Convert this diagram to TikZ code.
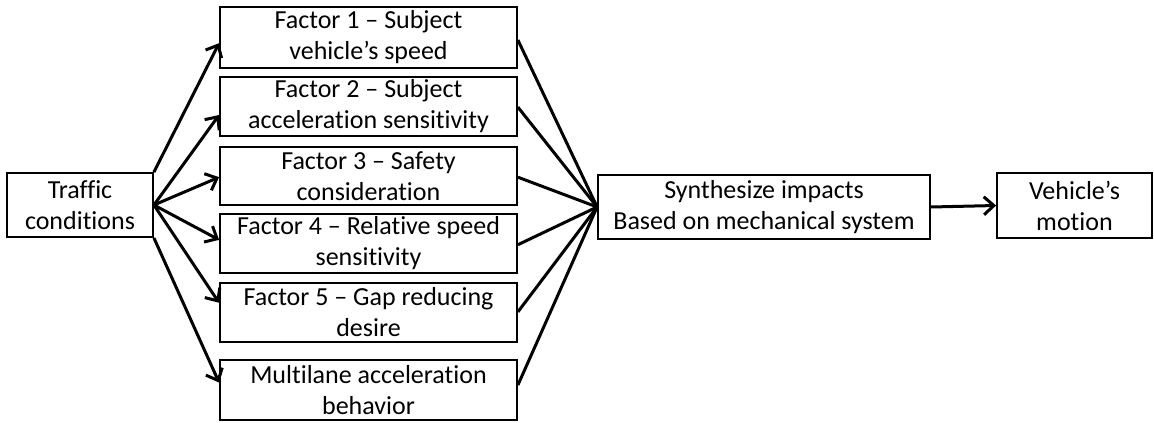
\documentclass[tikz,border=0pt]{standalone}
\usepackage{fontspec}
\setmainfont{Carlito}[Ligatures=NoCommon]
\usetikzlibrary{arrows.meta,calc}
\begin{document}
\begin{tikzpicture}[x=1pt,y=-1pt,
  box/.style={draw,line width=1.8pt,rectangle,inner sep=0pt,align=center,
    font=\fontsize{26}{31}\selectfont},
  link/.style={line width=3pt},
  arr/.style={link,-{Straight Barb[length=10pt,width=18pt,line width=3pt]}}]
\useasboundingbox (0,0) rectangle (1154,423);

% source
\node[box,minimum width=146pt,minimum height=64pt] (tc) at (80,205) {Traffic\\conditions};

% factor column
\node[box,minimum width=297pt,minimum height=61pt] (f1) at (368.5,37.5) {Factor 1 -- Subject\\vehicle’s speed};
\node[box,minimum width=297pt,minimum height=59pt] (f2) at (368.5,106.5) {Factor 2 -- Subject\\acceleration sensitivity};
\node[box,minimum width=297pt,minimum height=58pt] (f3) at (368.5,176) {Factor 3 -- Safety\\consideration};
\node[box,minimum width=297pt,minimum height=59pt] (f4) at (368.5,243.5) {Factor 4 -- Relative speed\\sensitivity};
\node[box,minimum width=297pt,minimum height=59pt] (f5) at (368.5,312.5) {Factor 5 -- Gap reducing\\desire};
\node[box,minimum width=297pt,minimum height=60pt] (f6) at (368.5,390) {Multilane acceleration\\behavior};

% synthesis and output
\node[box,minimum width=332pt,minimum height=64pt] (syn) at (764,207) {Synthesize impacts\\Based on mechanical system};
\node[box,minimum width=155pt,minimum height=65pt] (veh) at (1074.5,205.5) {Vehicle’s\\motion};

% fan-out from traffic conditions
\draw[arr] (tc.north east) -- ($(f1.north west)!0.59!(f1.south west)$);
\draw[arr] (tc.east) -- ($(f2.north west)!0.64!(f2.south west)$);
\draw[arr] (tc.east) -- ($(f3.north west)!0.52!(f3.south west)$);
\draw[arr] (tc.east) -- ($(f4.north west)!0.44!(f4.south west)$);
\draw[arr] (tc.east) -- ($(f5.north west)!0.34!(f5.south west)$);
\draw[arr] (tc.south east) -- ($(f6.north west)!0.38!(f6.south west)$);

% fan-in to synthesis
\draw[link] ($(f1.north east)!0.54!(f1.south east)$) -- (syn.west);
\draw[link] ($(f2.north east)!0.51!(f2.south east)$) -- (syn.west);
\draw[link] ($(f3.north east)!0.52!(f3.south east)$) -- (syn.west);
\draw[link] ($(f4.north east)!0.52!(f4.south east)$) -- (syn.west);
\draw[link] ($(f5.north east)!0.49!(f5.south east)$) -- (syn.west);
\draw[link] ($(f6.north east)!0.42!(f6.south east)$) -- (syn.west);

\draw[arr] (syn.east) -- (veh.west);
\end{tikzpicture}
\end{document}
